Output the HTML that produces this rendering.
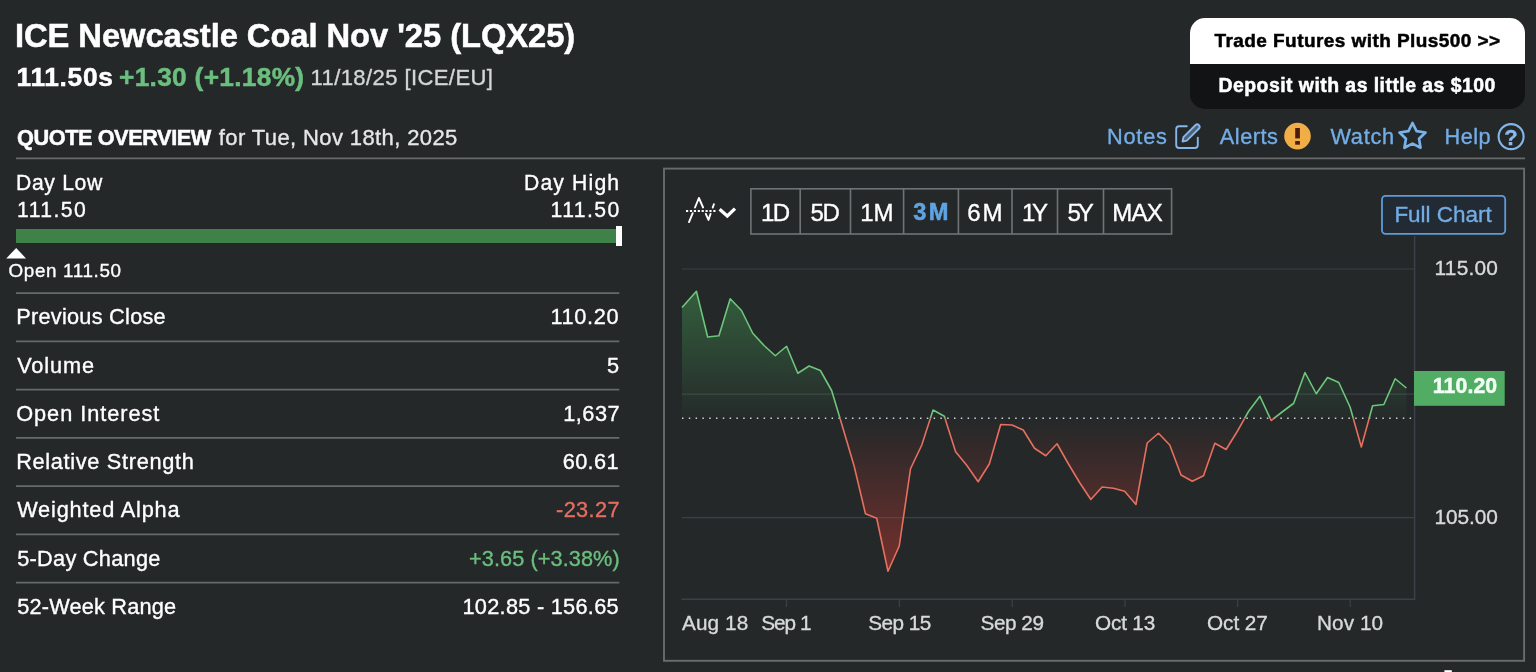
<!DOCTYPE html><html><head><meta charset='utf-8'><title>ICE Newcastle Coal Nov '25 (LQX25)</title><style>
html,body{margin:0;padding:0;}
body{width:1536px;height:672px;background:#242829;overflow:hidden;position:relative;font-family:"Liberation Sans",sans-serif;}
.t{position:absolute;white-space:nowrap;line-height:1;-webkit-text-stroke:0.35px currentColor;}
.b{font-weight:700;-webkit-text-stroke:0.5px currentColor;}
.hl{position:absolute;height:1.5px;background:#67696b;}
.abs{position:absolute;}
</style></head><body>
<div class='abs' style='left:1189.5px;top:17.5px;width:335.5px;height:91.3px;border-radius:15px;background:#121314;overflow:hidden;'><div style='height:46.3px;background:#ffffff;'></div></div>
<div class='abs' style='left:16px;top:228.8px;width:603px;height:14.3px;background:#3f8249;'></div>
<div class='abs' style='left:616.3px;top:226.3px;width:5.5px;height:20px;background:#ffffff;'></div>
<svg class='abs' style='left:0;top:240px' width='40' height='24'><polygon points='16.2,8 26,18.4 6.2,18.4' fill='#ffffff'/></svg>
<svg class='abs' style='left:0;top:0' width='1536' height='672' viewBox='0 0 1536 672'>
<defs>
<linearGradient id='gg' gradientUnits='userSpaceOnUse' x1='0' y1='288' x2='0' y2='418.2'><stop offset='0' stop-color='#46a055' stop-opacity='0.46'/><stop offset='1' stop-color='#46a055' stop-opacity='0.02'/></linearGradient>
<linearGradient id='rg' gradientUnits='userSpaceOnUse' x1='0' y1='418.2' x2='0' y2='572'><stop offset='0' stop-color='#dc3c32' stop-opacity='0.0'/><stop offset='1' stop-color='#dc3c32' stop-opacity='0.44'/></linearGradient>
<clipPath id='up'><rect x='680' y='260' width='740' height='158.2'/></clipPath>
<clipPath id='dn'><rect x='680' y='418.2' width='740' height='190'/></clipPath>
</defs>
<g stroke='#3b4049' stroke-width='1.2'>
<line x1='682' y1='269' x2='1414.5' y2='269'/>
<line x1='682' y1='394.2' x2='1414.5' y2='394.2'/>
<line x1='682' y1='517.6' x2='1414.5' y2='517.6'/>
<line x1='681.5' y1='599.2' x2='1415.2' y2='599.2' stroke-width='1.5'/>
<line x1='1414.6' y1='236' x2='1414.6' y2='599.8' stroke-width='1.5'/>
<line x1='786.5' y1='599' x2='786.5' y2='607'/>
<line x1='899.4' y1='599' x2='899.4' y2='607'/>
<line x1='1012.2' y1='599' x2='1012.2' y2='607'/>
<line x1='1125' y1='599' x2='1125' y2='607'/>
<line x1='1237.6' y1='599' x2='1237.6' y2='607'/>
<line x1='1350.2' y1='599' x2='1350.2' y2='607'/>
</g>
<polygon points='682.00,418.2 682.00,307.50 696.40,291.25 707.67,337.00 718.94,335.75 730.21,298.75 741.48,310.50 752.75,333.25 764.02,345.50 775.29,355.75 786.56,346.25 797.83,373.25 809.10,366.00 820.37,370.50 831.64,390.50 842.91,428.00 854.18,466.25 865.45,513.75 876.72,518.25 887.99,571.25 899.26,546.00 910.53,468.75 921.80,445.00 933.07,410.00 944.34,416.25 955.61,451.75 966.88,465.50 978.15,481.75 989.42,463.75 1000.69,424.50 1011.96,425.00 1023.23,430.00 1034.50,448.25 1045.77,455.75 1057.04,443.75 1068.31,463.75 1079.58,482.50 1090.85,499.50 1102.12,487.00 1113.39,488.25 1124.66,491.25 1135.93,504.50 1147.20,443.00 1158.47,433.25 1169.74,445.00 1181.01,475.00 1192.28,481.25 1203.55,475.75 1214.82,443.25 1226.09,449.50 1237.36,431.25 1248.63,411.25 1259.90,396.25 1271.17,420.50 1282.44,411.75 1293.71,403.25 1304.98,372.50 1316.25,393.75 1327.52,377.50 1338.79,382.50 1350.06,407.00 1361.33,447.00 1372.60,405.75 1383.87,404.50 1395.14,378.75 1406.41,388.00 1406.41,418.2' fill='url(#gg)' clip-path='url(#up)'/>
<polygon points='682.00,418.2 682.00,307.50 696.40,291.25 707.67,337.00 718.94,335.75 730.21,298.75 741.48,310.50 752.75,333.25 764.02,345.50 775.29,355.75 786.56,346.25 797.83,373.25 809.10,366.00 820.37,370.50 831.64,390.50 842.91,428.00 854.18,466.25 865.45,513.75 876.72,518.25 887.99,571.25 899.26,546.00 910.53,468.75 921.80,445.00 933.07,410.00 944.34,416.25 955.61,451.75 966.88,465.50 978.15,481.75 989.42,463.75 1000.69,424.50 1011.96,425.00 1023.23,430.00 1034.50,448.25 1045.77,455.75 1057.04,443.75 1068.31,463.75 1079.58,482.50 1090.85,499.50 1102.12,487.00 1113.39,488.25 1124.66,491.25 1135.93,504.50 1147.20,443.00 1158.47,433.25 1169.74,445.00 1181.01,475.00 1192.28,481.25 1203.55,475.75 1214.82,443.25 1226.09,449.50 1237.36,431.25 1248.63,411.25 1259.90,396.25 1271.17,420.50 1282.44,411.75 1293.71,403.25 1304.98,372.50 1316.25,393.75 1327.52,377.50 1338.79,382.50 1350.06,407.00 1361.33,447.00 1372.60,405.75 1383.87,404.50 1395.14,378.75 1406.41,388.00 1406.41,418.2' fill='url(#rg)' clip-path='url(#dn)'/>
<line x1='682' y1='418.2' x2='1413' y2='418.2' stroke='#d0d2d3' stroke-width='1.4' stroke-dasharray='1.5 5.3'/>
<polyline points='682.00,307.50 696.40,291.25 707.67,337.00 718.94,335.75 730.21,298.75 741.48,310.50 752.75,333.25 764.02,345.50 775.29,355.75 786.56,346.25 797.83,373.25 809.10,366.00 820.37,370.50 831.64,390.50 842.91,428.00 854.18,466.25 865.45,513.75 876.72,518.25 887.99,571.25 899.26,546.00 910.53,468.75 921.80,445.00 933.07,410.00 944.34,416.25 955.61,451.75 966.88,465.50 978.15,481.75 989.42,463.75 1000.69,424.50 1011.96,425.00 1023.23,430.00 1034.50,448.25 1045.77,455.75 1057.04,443.75 1068.31,463.75 1079.58,482.50 1090.85,499.50 1102.12,487.00 1113.39,488.25 1124.66,491.25 1135.93,504.50 1147.20,443.00 1158.47,433.25 1169.74,445.00 1181.01,475.00 1192.28,481.25 1203.55,475.75 1214.82,443.25 1226.09,449.50 1237.36,431.25 1248.63,411.25 1259.90,396.25 1271.17,420.50 1282.44,411.75 1293.71,403.25 1304.98,372.50 1316.25,393.75 1327.52,377.50 1338.79,382.50 1350.06,407.00 1361.33,447.00 1372.60,405.75 1383.87,404.50 1395.14,378.75 1406.41,388.00' fill='none' stroke='#6ec57c' stroke-width='1.6' stroke-linejoin='round' clip-path='url(#up)'/>
<polyline points='682.00,307.50 696.40,291.25 707.67,337.00 718.94,335.75 730.21,298.75 741.48,310.50 752.75,333.25 764.02,345.50 775.29,355.75 786.56,346.25 797.83,373.25 809.10,366.00 820.37,370.50 831.64,390.50 842.91,428.00 854.18,466.25 865.45,513.75 876.72,518.25 887.99,571.25 899.26,546.00 910.53,468.75 921.80,445.00 933.07,410.00 944.34,416.25 955.61,451.75 966.88,465.50 978.15,481.75 989.42,463.75 1000.69,424.50 1011.96,425.00 1023.23,430.00 1034.50,448.25 1045.77,455.75 1057.04,443.75 1068.31,463.75 1079.58,482.50 1090.85,499.50 1102.12,487.00 1113.39,488.25 1124.66,491.25 1135.93,504.50 1147.20,443.00 1158.47,433.25 1169.74,445.00 1181.01,475.00 1192.28,481.25 1203.55,475.75 1214.82,443.25 1226.09,449.50 1237.36,431.25 1248.63,411.25 1259.90,396.25 1271.17,420.50 1282.44,411.75 1293.71,403.25 1304.98,372.50 1316.25,393.75 1327.52,377.50 1338.79,382.50 1350.06,407.00 1361.33,447.00 1372.60,405.75 1383.87,404.50 1395.14,378.75 1406.41,388.00' fill='none' stroke='#e5705f' stroke-width='1.6' stroke-linejoin='round' clip-path='url(#dn)'/>
<rect x='1414' y='371' width='90.7' height='34.8' fill='#51ad63'/>
<g stroke='#67696b' stroke-width='1.8'><line x1='16' y1='158.3' x2='1525' y2='158.3'/><line x1='16' y1='293.20' x2='619.3' y2='293.20'/><line x1='16' y1='341.45' x2='619.3' y2='341.45'/><line x1='16' y1='389.70' x2='619.3' y2='389.70'/><line x1='16' y1='437.95' x2='619.3' y2='437.95'/><line x1='16' y1='486.20' x2='619.3' y2='486.20'/><line x1='16' y1='534.45' x2='619.3' y2='534.45'/><line x1='16' y1='582.70' x2='619.3' y2='582.70'/></g><rect x='664' y='168.6' width='860.1' height='492.2' fill='none' stroke='#696b6d' stroke-width='1.9'/><rect x='1382' y='195.9' width='123.2' height='37.9' rx='3.5' fill='#222a34' stroke='#5f9bd6' stroke-width='1.8'/><g stroke='#6f7376' stroke-width='1.6' fill='none'><rect x='750.9' y='188.8' width='420.7' height='45.2'/><line x1='800.2' y1='188.8' x2='800.2' y2='234'/><line x1='850.5' y1='188.8' x2='850.5' y2='234'/><line x1='903.6' y1='188.8' x2='903.6' y2='234'/><line x1='958.4' y1='188.8' x2='958.4' y2='234'/><line x1='1012' y1='188.8' x2='1012' y2='234'/><line x1='1057.5' y1='188.8' x2='1057.5' y2='234'/><line x1='1103.5' y1='188.8' x2='1103.5' y2='234'/></g>
<!-- chart type icon -->
<g fill='none' stroke='#ffffff' stroke-width='1.9' stroke-linecap='round' stroke-linejoin='round'>
<path d='M689 222.1 L692.7 213.2 M695 207.5 L698.9 198 L703.1 207.5 M705.8 213.8 L708.5 219.9 L710.6 213.8 M712.7 207.6 L713.9 204.2'/>
</g>
<line x1='686' y1='210.9' x2='715.6' y2='210.9' stroke='#ffffff' stroke-width='2' stroke-dasharray='2.2 1.7'/>
<path d='M719.6 209.3 L727.3 216 L735 208.6' fill='none' stroke='#ffffff' stroke-width='3.3'/>
<!-- notes icon -->
<g fill='none' stroke='#86b6ea' stroke-width='1.9' stroke-linecap='round' stroke-linejoin='round'>
<path d='M1186.8 126.3 H1179.2 Q1176.2 126.3 1176.2 129.3 V145 Q1176.2 148 1179.2 148 H1194.8 Q1197.8 148 1197.8 145 V137.6'/>
<path d='M1183.4 137.2 L1195.6 125 Q1197.2 123.6 1198.9 125.2 Q1200.5 126.9 1199 128.5 L1186.8 140.6 L1182.6 141.5 Z' fill='#86b6ea' fill-opacity='0.4'/>
</g>
<!-- alert icon -->
<circle cx='1297.5' cy='136.1' r='13.3' fill='#f1ad46'/>
<rect x='1295.2' y='128' width='4.7' height='10.4' fill='#4a1d0e'/>
<rect x='1295.2' y='141' width='4.7' height='3.7' fill='#4a1d0e'/>
<!-- star -->
<polygon points='1412.50,123.00 1416.56,131.12 1425.53,132.47 1419.06,138.83 1420.55,147.78 1412.50,143.60 1404.45,147.78 1405.94,138.83 1399.47,132.47 1408.44,131.12' fill='none' stroke='#7ab1e9' stroke-width='2.7' stroke-linejoin='round'/>
<!-- help -->
<circle cx='1511.1' cy='136.6' r='12.5' fill='none' stroke='#86b6ea' stroke-width='2.1'/>
<!-- bottom stub -->
<rect x='1444.4' y='670.2' width='7.4' height='2' fill='#ffffff'/>
</svg>
<div class='t' style='left:1504.2px;top:127.1px;font-size:22px;font-weight:700;color:#8abaee;'>?</div>
<div class='t b' style='left:15px;top:19.51px;font-size:32.71px;letter-spacing:-0.058px;color:#ffffff;'>ICE Newcastle Coal Nov &#x27;25 (LQX25)</div>
<div class='t b' style='left:16.6px;top:63.85px;font-size:26.29px;letter-spacing:0.686px;color:#ffffff;'>111.50s</div>
<div class='t b' style='left:119px;top:63.85px;font-size:26.29px;letter-spacing:0.299px;color:#6bbe7e;'>+1.30 (+1.18%)</div>
<div class='t' style='left:310.5px;top:67.35px;font-size:22.03px;letter-spacing:0.413px;color:#d4d6d7;'>11/18/25 [ICE/EU]</div>
<div class='t b' style='left:17px;top:126.92px;font-size:21.71px;letter-spacing:-0.423px;color:#ffffff;'>QUOTE OVERVIEW</div>
<div class='t' style='left:218.8px;top:126.55px;font-size:22.03px;letter-spacing:0.384px;color:#e6e7e8;'>for Tue, Nov 18th, 2025</div>
<div class='t b' style='left:1214.5px;top:30.92px;font-size:19.0px;letter-spacing:0.432px;color:#000000;'>Trade Futures with Plus500 &gt;&gt;</div>
<div class='t b' style='left:1218.5px;top:76.05px;font-size:19.43px;letter-spacing:0.463px;color:#ffffff;'>Deposit with as little as $100</div>
<div class='t' style='left:1107px;top:126.2px;font-size:21.74px;letter-spacing:0.773px;color:#74ade6;'>Notes</div>
<div class='t' style='left:1219.8px;top:126.2px;font-size:21.74px;letter-spacing:0.502px;color:#74ade6;'>Alerts</div>
<div class='t' style='left:1330.4px;top:126.2px;font-size:21.74px;letter-spacing:0.725px;color:#74ade6;'>Watch</div>
<div class='t' style='left:1444.6px;top:126.2px;font-size:21.74px;letter-spacing:0.396px;color:#74ade6;'>Help</div>
<div class='t' style='left:16px;top:172.09px;font-size:21.16px;letter-spacing:0.661px;color:#ffffff;'>Day Low</div>
<div class='t' style='left:17px;top:199.09px;font-size:21.16px;letter-spacing:1.44px;color:#ffffff;'>111.50</div>
<div class='t' style='left:524px;top:172.09px;font-size:21.16px;letter-spacing:1.151px;color:#ffffff;'>Day High</div>
<div class='t' style='left:550.5px;top:199.09px;font-size:21.16px;letter-spacing:1.44px;color:#ffffff;'>111.50</div>
<div class='t' style='left:8.5px;top:262.05px;font-size:18.84px;letter-spacing:0.639px;color:#ffffff;'>Open 111.50</div>
<div class='t' style='left:16.2px;top:306.3px;font-size:21.74px;letter-spacing:0.256px;color:#ffffff;'>Previous Close</div>
<div class='t' style='left:550.5px;top:306.3px;font-size:21.74px;letter-spacing:0.645px;color:#ffffff;'>110.20</div>
<div class='t' style='left:17.2px;top:354.55px;font-size:21.74px;letter-spacing:0.879px;color:#ffffff;'>Volume</div>
<div class='t' style='left:607px;top:354.55px;font-size:21.74px;letter-spacing:0px;color:#ffffff;'>5</div>
<div class='t' style='left:16.2px;top:402.8px;font-size:21.74px;letter-spacing:0.954px;color:#ffffff;'>Open Interest</div>
<div class='t' style='left:563.3px;top:402.8px;font-size:21.74px;letter-spacing:0.475px;color:#ffffff;'>1,637</div>
<div class='t' style='left:16.2px;top:451.05px;font-size:21.74px;letter-spacing:0.679px;color:#ffffff;'>Relative Strength</div>
<div class='t' style='left:562.7px;top:451.05px;font-size:21.74px;letter-spacing:0.375px;color:#ffffff;'>60.61</div>
<div class='t' style='left:17.2px;top:499.3px;font-size:21.74px;letter-spacing:0.81px;color:#ffffff;'>Weighted Alpha</div>
<div class='t' style='left:556px;top:499.3px;font-size:21.74px;letter-spacing:0.392px;color:#e76d61;'>-23.27</div>
<div class='t' style='left:17.2px;top:547.55px;font-size:21.74px;letter-spacing:0.276px;color:#ffffff;'>5-Day Change</div>
<div class='t' style='left:469px;top:547.55px;font-size:21.74px;letter-spacing:0.07px;color:#6bbe7e;'>+3.65 (+3.38%)</div>
<div class='t' style='left:17.2px;top:595.8px;font-size:21.74px;letter-spacing:0.186px;color:#ffffff;'>52-Week Range</div>
<div class='t' style='left:462.5px;top:595.8px;font-size:21.74px;letter-spacing:0.273px;color:#ffffff;'>102.85 - 156.65</div>
<div class='t' style='left:760.9px;top:200.63px;font-size:24.06px;letter-spacing:-1.574px;color:#ffffff;'>1D</div>
<div class='t' style='left:810.6px;top:200.63px;font-size:24.06px;letter-spacing:-1.374px;color:#ffffff;'>5D</div>
<div class='t' style='left:860.3px;top:200.63px;font-size:24.06px;letter-spacing:-0.074px;color:#ffffff;'>1M</div>
<div class='t b' style='left:913.3px;top:200.93px;font-size:23.71px;letter-spacing:2.217px;color:#5fa3e3;'>3M</div>
<div class='t' style='left:967.2px;top:200.63px;font-size:24.06px;letter-spacing:2.026px;color:#ffffff;'>6M</div>
<div class='t' style='left:1022px;top:200.63px;font-size:24.06px;letter-spacing:-3.274px;color:#ffffff;'>1Y</div>
<div class='t' style='left:1067.5px;top:200.63px;font-size:24.06px;letter-spacing:-3.174px;color:#ffffff;'>5Y</div>
<div class='t' style='left:1112.3px;top:200.63px;font-size:24.06px;letter-spacing:-0.835px;color:#ffffff;'>MAX</div>
<div class='t' style='left:1394.4px;top:203.99px;font-size:22.46px;letter-spacing:0.013px;color:#74ade6;'>Full Chart</div>
<div class='t' style='left:1434.6px;top:258.13px;font-size:20.87px;letter-spacing:0.19px;color:#d8d9da;'>115.00</div>
<div class='t' style='left:1434.6px;top:507.13px;font-size:20.87px;letter-spacing:-0.12px;color:#d8d9da;'>105.00</div>
<div class='t b' style='left:1432.8px;top:376.48px;font-size:21.29px;letter-spacing:0.084px;color:#f2fff4;'>110.20</div>
<div class='t' style='left:682px;top:613.26px;font-size:20.72px;letter-spacing:0.111px;color:#d8d9da;'>Aug 18</div>
<div class='t' style='left:761.2px;top:613.26px;font-size:20.72px;letter-spacing:-0.955px;color:#d8d9da;'>Sep 1</div>
<div class='t' style='left:868.3px;top:613.26px;font-size:20.72px;letter-spacing:-0.529px;color:#d8d9da;'>Sep 15</div>
<div class='t' style='left:980.6px;top:613.26px;font-size:20.72px;letter-spacing:-0.469px;color:#d8d9da;'>Sep 29</div>
<div class='t' style='left:1095px;top:613.26px;font-size:20.72px;letter-spacing:-0.162px;color:#d8d9da;'>Oct 13</div>
<div class='t' style='left:1207px;top:613.26px;font-size:20.72px;letter-spacing:-0.042px;color:#d8d9da;'>Oct 27</div>
<div class='t' style='left:1317px;top:613.26px;font-size:20.72px;letter-spacing:0.075px;color:#d8d9da;'>Nov 10</div>
</body></html>
